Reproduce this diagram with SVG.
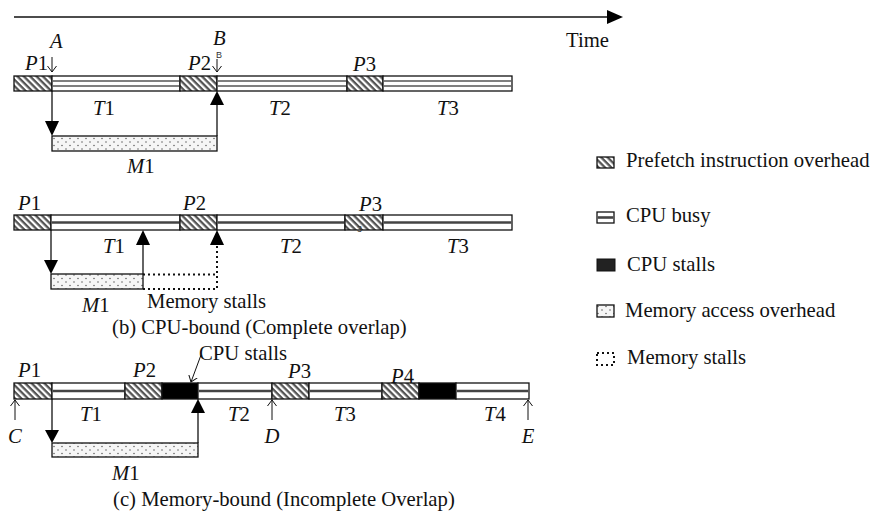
<svg xmlns="http://www.w3.org/2000/svg" width="873" height="515" viewBox="0 0 873 515">
<style>
text{font-family:"Liberation Serif","Times New Roman",serif;font-size:20.7px;fill:#111}
.i{font-style:italic}
.sm{font-size:9px;font-family:"Liberation Sans",Arial,sans-serif;fill:#333}
.seg{stroke:#111;stroke-width:1.3}
.h{fill:url(#hatch)}
.b{fill:#fff}
.k{fill:#000}
.m{fill:url(#dots)}
.mid{stroke:#444;stroke-width:2.6}
.mid2{stroke:#555;stroke-width:1.5}
.ln{stroke:#111;stroke-width:1.3;fill:none}
.dot{stroke:#111;stroke-width:2;stroke-dasharray:2 3;fill:none}
.tri{fill:#000}
.oa{stroke:#111;stroke-width:1;fill:none;marker-end:url(#open)}
</style>
<defs>
<pattern id="hatch" patternUnits="userSpaceOnUse" width="4.5" height="4.5" patternTransform="rotate(45)">
<rect width="4.5" height="4.5" fill="#fff"/>
<rect width="4.5" height="2.3" fill="#555"/>
</pattern>
<pattern id="dots" patternUnits="userSpaceOnUse" width="8" height="7">
<rect width="8" height="7" fill="#f6f6f6"/>
<circle cx="2" cy="2" r="0.8" fill="#666"/>
<circle cx="6" cy="5.5" r="0.8" fill="#666"/>
</pattern>
<marker id="open" markerUnits="userSpaceOnUse" markerWidth="12" markerHeight="12" refX="6" refY="6" orient="auto">
<polyline points="0,1.5 6,6 0,10.5" fill="none" stroke="#111" stroke-width="1"/>
</marker>
</defs>
<rect width="873" height="515" fill="#fff"/>

<g id="time-axis">
<line x1="14" y1="17" x2="610" y2="17" stroke="#111" stroke-width="1.3"/>
<polygon points="607,10 623,17 607,24" fill="#000"/>
<text x="566" y="47">Time</text>
</g>

<!-- (a) -->
<g id="row-a">
<rect class="seg h" x="14" y="76" width="38" height="15"/>
<rect class="seg b" x="52" y="76" width="128" height="15"/>
<line class="mid2" x1="52.7" y1="81" x2="179.3" y2="81"/>
<line class="mid2" x1="52.7" y1="86" x2="179.3" y2="86"/>
<rect class="seg h" x="180" y="76" width="37" height="15"/>
<rect class="seg b" x="217" y="76" width="130" height="15"/>
<line class="mid2" x1="217.7" y1="81" x2="346.3" y2="81"/>
<line class="mid2" x1="217.7" y1="86" x2="346.3" y2="86"/>
<rect class="seg h" x="347" y="76" width="36" height="15"/>
<rect class="seg b" x="383" y="76" width="129" height="15"/>
<line class="mid2" x1="383.7" y1="81" x2="511.3" y2="81"/>
<line class="mid2" x1="383.7" y1="86" x2="511.3" y2="86"/>
<text x="25" y="70"><tspan class="i">P</tspan>1</text>
<text x="188" y="70"><tspan class="i">P</tspan>2</text>
<text x="353" y="71"><tspan class="i">P</tspan>3</text>
<text x="50" y="48" class="i">A</text>
<text x="213" y="45" class="i">B</text>
<text x="216" y="58" class="sm">B</text>
<text x="93" y="115"><tspan class="i">T</tspan>1</text>
<text x="269" y="115"><tspan class="i">T</tspan>2</text>
<text x="437" y="115"><tspan class="i">T</tspan>3</text>
<rect class="seg m" x="52" y="136" width="165" height="15"/>
<text x="127" y="173"><tspan class="i">M</tspan>1</text>
</g>

<!-- (b) -->
<g id="row-b">
<rect class="seg h" x="14" y="215" width="37" height="15"/>
<rect class="seg b" x="51" y="215" width="129" height="15"/>
<line class="mid" x1="51.7" y1="222.5" x2="179.3" y2="222.5"/>
<rect class="seg h" x="180" y="215" width="37" height="15"/>
<rect class="seg b" x="217" y="215" width="128" height="15"/>
<line class="mid" x1="217.7" y1="222.5" x2="344.3" y2="222.5"/>
<rect class="seg h" x="345" y="215" width="38" height="15"/>
<rect class="seg b" x="383" y="215" width="129" height="15"/>
<line class="mid" x1="383.7" y1="222.5" x2="511.3" y2="222.5"/>
<text x="18" y="210"><tspan class="i">P</tspan>1</text>
<text x="183" y="210"><tspan class="i">P</tspan>2</text>
<text x="359" y="211"><tspan class="i">P</tspan>3</text>
<text x="357" y="232" class="sm">3</text>
<text x="103" y="253"><tspan class="i">T</tspan>1</text>
<text x="280" y="253"><tspan class="i">T</tspan>2</text>
<text x="447" y="253"><tspan class="i">T</tspan>3</text>
<rect class="seg m" x="51" y="274" width="92" height="15"/>
<text x="82" y="312"><tspan class="i">M</tspan>1</text>
<text x="147" y="308">Memory stalls</text>
<text x="112" y="334">(b) CPU-bound (Complete overlap)</text>
</g>

<!-- (c) -->
<g id="row-c">
<rect class="seg h" x="14" y="383" width="38" height="16"/>
<rect class="seg b" x="52" y="383" width="73" height="16"/>
<line class="mid" x1="52.7" y1="391" x2="124.3" y2="391"/>
<rect class="seg h" x="125" y="383" width="37" height="16"/>
<rect class="seg k" x="162" y="383" width="36" height="16"/>
<rect class="seg b" x="198" y="383" width="74" height="16"/>
<line class="mid" x1="198.7" y1="391" x2="271.3" y2="391"/>
<rect class="seg h" x="272" y="383" width="37" height="16"/>
<rect class="seg b" x="309" y="383" width="73" height="16"/>
<line class="mid" x1="309.7" y1="391" x2="381.3" y2="391"/>
<rect class="seg h" x="382" y="383" width="37" height="16"/>
<rect class="seg k" x="419" y="383" width="37" height="16"/>
<rect class="seg b" x="456" y="383" width="73" height="16"/>
<line class="mid" x1="456.7" y1="391" x2="528.3" y2="391"/>
<text x="18" y="377"><tspan class="i">P</tspan>1</text>
<text x="133" y="377"><tspan class="i">P</tspan>2</text>
<text x="288" y="378"><tspan class="i">P</tspan>3</text>
<text x="391" y="383"><tspan class="i">P</tspan>4</text>
<text x="199" y="360">CPU stalls</text>
<text x="80" y="421"><tspan class="i">T</tspan>1</text>
<text x="228" y="421"><tspan class="i">T</tspan>2</text>
<text x="334" y="421"><tspan class="i">T</tspan>3</text>
<text x="484" y="421"><tspan class="i">T</tspan>4</text>
<text x="15" y="443" class="i" text-anchor="middle">C</text>
<text x="272" y="443" class="i" text-anchor="middle">D</text>
<text x="528" y="443" class="i" text-anchor="middle">E</text>
<rect class="seg m" x="52" y="443" width="146" height="14"/>
<text x="112" y="480"><tspan class="i">M</tspan>1</text>
<text x="113" y="506">(c) Memory-bound (Incomplete Overlap)</text>
</g>

<g id="connectors">
<line class="oa" x1="52" y1="57" x2="52" y2="72"/>
<line class="oa" x1="217" y1="59" x2="217" y2="72"/>
<line class="oa" x1="15" y1="420" x2="15" y2="400"/>
<line class="oa" x1="272" y1="420" x2="272" y2="400"/>
<line class="oa" x1="528" y1="420" x2="528" y2="400"/>
<line class="oa" x1="201" y1="355" x2="191" y2="382"/>
<line class="ln" x1="52" y1="91" x2="52" y2="124"/>
<polygon class="tri" points="45,121 59,121 52,136"/>
<line class="ln" x1="217" y1="136" x2="217" y2="103"/>
<polygon class="tri" points="210,105 224,105 217,91"/>
<line class="ln" x1="51" y1="230" x2="51" y2="262"/>
<polygon class="tri" points="44,260 58,260 51,274"/>
<line class="ln" x1="143" y1="274" x2="143" y2="243"/>
<polygon class="tri" points="136,245 150,245 143,230"/>
<polyline class="dot" points="143,274.5 217,274.5"/>
<polyline class="dot" points="143,289 217,289 217,246"/>
<polygon class="tri" points="210,245 224,245 217,230"/>
<line class="ln" x1="52" y1="399" x2="52" y2="432"/>
<polygon class="tri" points="45,430 59,430 52,443"/>
<line class="ln" x1="198" y1="443" x2="198" y2="411"/>
<polygon class="tri" points="191,413 205,413 198,399"/>
</g>

<g id="legend">
<rect class="seg h" x="597" y="157" width="17" height="11"/>
<text x="626" y="167">Prefetch instruction overhead</text>
<rect class="seg b" x="597" y="212" width="17" height="11"/>
<line class="mid" x1="597.7" y1="217.5" x2="613.3" y2="217.5"/>
<text x="626" y="222">CPU busy</text>
<rect x="597" y="259" width="18" height="12" fill="#222" stroke="#111" stroke-width="1"/>
<text x="627" y="271">CPU stalls</text>
<rect class="seg m" x="597" y="305" width="17" height="12"/>
<text x="625" y="317">Memory access overhead</text>
<rect x="597" y="353" width="17" height="12" class="dot" stroke-width="1.5"/>
<text x="627" y="364">Memory stalls</text>
</g>
</svg>
